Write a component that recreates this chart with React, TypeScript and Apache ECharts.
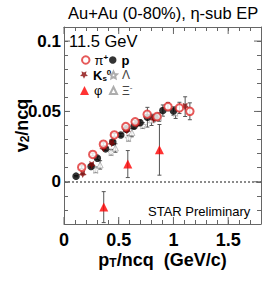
import React, { useEffect, useRef } from "react";
import * as echarts from "echarts";

// ---- data ----
const piX = [0.162, 0.263, 0.36, 0.46, 0.565, 0.65, 0.76, 0.85, 0.95, 1.055, 1.15];
const piY = [0.0104, 0.0194, 0.0267, 0.0333, 0.0392, 0.0426, 0.048, 0.0463, 0.0534, 0.0525, 0.0501];
const piErr = [0.001, 0.001, 0.001, 0.001, 0.001, 0.001, 0.0015, 0.002, 0.003, 0.004, 0.006];

const pX = [0.11, 0.247, 0.305, 0.38, 0.446, 0.519, 0.57, 0.64, 0.695, 0.762, 0.833, 0.903, 1.0];
const pY = [0.004, 0.0109, 0.0168, 0.0234, 0.0282, 0.0333, 0.0374, 0.0395, 0.042, 0.0459, 0.0456, 0.0506, 0.0503];
const pErr = [0.0005, 0.001, 0.001, 0.001, 0.001, 0.001, 0.001, 0.0015, 0.002, 0.007, 0.002, 0.004, 0.003];

const kX = [0.171, 0.253, 0.36, 0.436, 0.574, 0.665, 0.817, 1.107];
const kY = [0.0055, 0.012, 0.0239, 0.0274, 0.0364, 0.041, 0.0445, 0.0534];
const kErr = [0.0005, 0.001, 0.001, 0.001, 0.001, 0.0015, 0.002, 0.007];

const lamX = [0.29, 0.43, 0.59, 0.72, 0.87, 1.02];
const lamY = [0.0085, 0.021, 0.031, 0.04, 0.046, 0.049];
const lamErr = [0.002, 0.002, 0.002, 0.002, 0.003, 0.004];

const xiX = [0.33, 0.47, 0.62, 0.8];
const xiY = [0.012, 0.024, 0.035, 0.044];
const xiErr = [0.003, 0.003, 0.003, 0.004];

const phiX = [0.363, 0.583, 0.872];
const phiY = [-0.018, 0.0126, 0.0227];
const phiErr = [0.011, 0.0096, 0.018];

const xMajor = [0, 0.5, 1, 1.5];
const yMajor = [0, 0.05, 0.1];
const xMin = 0, xMax = 1.8, yMin = -0.03, yMax = 0.11;

const FONT = "Liberation Sans, Arial, Helvetica, sans-serif";
const AX = "#666";

const starDown =
  "path://M0,10 L2.9,4 L9.5,3.1 L4.7,-1.5 L5.9,-8.1 L0,-5 L-5.9,-8.1 L-4.7,-1.5 L-9.5,3.1 L-2.9,4 Z";
const starUp =
  "path://M0,-10 L2.9,-4 L9.5,-3.1 L4.7,1.5 L5.9,8.1 L0,5 L-5.9,8.1 L-4.7,1.5 L-9.5,-3.1 L-2.9,-4 Z";

function pts(xs: number[], ys: number[]) {
  return xs.map((x, i) => [x, ys[i]]);
}
function errs(xs: number[], ys: number[], es: number[]) {
  return xs.map((x, i) => [x, ys[i] - es[i], ys[i] + es[i]]);
}

export default function App() {
  const ref = useRef<HTMLDivElement>(null);
  useEffect(() => {
    if (!ref.current) return;
    const chart = echarts.init(ref.current, null, { renderer: "svg" });

    const errData = [
      ...errs(pX, pY, pErr),
      ...errs(kX, kY, kErr),
      ...errs(piX, piY, piErr),
      ...errs(lamX, lamY, lamErr),
      ...errs(xiX, xiY, xiErr),
      ...errs(phiX, phiY, phiErr),
    ];

    const fmt = (majors: number[]) => (v: number) => {
      const m = majors.find((q) => Math.abs(q - v) < 1e-6);
      return m === undefined ? "" : String(m);
    };

    const baseX = {
      type: "value",
      min: xMin,
      max: xMax,
      interval: 0.1,
      splitLine: { show: false },
      axisLine: { show: true, onZero: false, lineStyle: { color: AX, width: 1 } },
      axisTick: { show: true, inside: true, length: 4, lineStyle: { color: AX } },
    };
    const baseY = {
      type: "value",
      min: yMin,
      max: yMax,
      interval: 0.01,
      splitLine: { show: false },
      axisLine: { show: true, onZero: false, lineStyle: { color: AX, width: 1 } },
      axisTick: { show: true, inside: true, length: 4, lineStyle: { color: AX } },
    };

    const legendText = {
      fontFamily: FONT,
      fontSize: 13,
      color: "#000",
      lineHeight: 14,
      rich: {
        g: { fontSize: 13, color: "#000", fontFamily: FONT },
        b: { fontSize: 13, fontWeight: "bold", color: "#000", fontFamily: FONT },
        t: { fontSize: 12, color: "#444", fontFamily: FONT },
        sup: { fontSize: 8, fontWeight: "bold", verticalAlign: "top", color: "#000", fontFamily: FONT },
        sub: { fontSize: 8, fontWeight: "bold", verticalAlign: "bottom", color: "#000", fontFamily: FONT },
        supg: { fontSize: 8, verticalAlign: "top", color: "#444", fontFamily: FONT },
      },
    };
    const labels: Record<string, string> = {
      pi: "{g|π}{sup|+}",
      p: "{b|p}",
      K0s: "{b|K}{sub|s}{sup|0}",
      Lambda: "{t|Λ}",
      phi: "{g|φ}",
      Xi: "{t|Ξ}{supg|-}",
    };
    const mkLegend = (name: string, left: number, cy: number, w: number) => ({
      data: [name],
      left,
      top: cy - 7,
      itemWidth: w,
      itemHeight: w,
      itemGap: 0,
      padding: 0,
      textStyle: legendText,
      formatter: (n: string) => labels[n],
      selectedMode: false,
    });

    chart.setOption({
      animation: false,
      textStyle: { fontFamily: FONT },
      grid: { left: 64, top: 27, width: 197, height: 197, containLabel: false, outerBoundsMode: "none" },
      legend: [
        mkLegend("pi", 81, 60, 7.5),
        mkLegend("K0s", 80, 75, 8),
        mkLegend("phi", 80, 90.5, 9),
        mkLegend("p", 109, 60, 7.5),
        mkLegend("Lambda", 109, 75, 7),
        mkLegend("Xi", 109, 90.5, 7),
      ],
      xAxis: [
        {
          ...baseX,
          position: "bottom",
          axisLabel: {
            formatter: fmt(xMajor),
            fontSize: 18,
            fontWeight: "bold",
            color: "#000",
            margin: 7,
            fontFamily: FONT,
          },
          name: "{b|p}{s|T}{b|/ncq  (GeV/c)}",
          nameLocation: "middle",
          nameGap: 27,
          nameMoveOverlap: false,
          nameTextStyle: {
            rich: {
              b: { fontSize: 18, fontWeight: "bold", color: "#000", fontFamily: FONT },
              s: { fontSize: 12, fontWeight: "bold", color: "#000", verticalAlign: "bottom", fontFamily: FONT },
            },
          },
        },
        { ...baseX, position: "top", axisLabel: { show: false } },
      ],
      yAxis: [
        {
          ...baseY,
          position: "left",
          axisLabel: {
            formatter: fmt(yMajor),
            fontSize: 17,
            fontWeight: "bold",
            color: "#000",
            margin: 3,
            fontFamily: FONT,
          },
          name: "{b|v}{s|2}{b|/ncq}",
          nameLocation: "middle",
          nameRotate: 90,
          nameGap: 33,
          nameMoveOverlap: false,
          nameTextStyle: {
            rich: {
              b: { fontSize: 18, fontWeight: "bold", color: "#000", fontFamily: FONT },
              s: { fontSize: 12, fontWeight: "bold", color: "#000", verticalAlign: "bottom", fontFamily: FONT },
            },
          },
        },
        { ...baseY, position: "right", axisLabel: { show: false } },
      ],
      graphic: [
        {
          type: "text",
          left: 68,
          top: 4,
          style: { text: "Au+Au (0-80%), η-sub EP", fontSize: 16.5, fill: "#000", fontFamily: FONT },
        },
        {
          type: "text",
          left: 69,
          top: 32,
          style: { text: "11.5 GeV", fontSize: 16.5, fill: "#000", fontFamily: FONT },
        },
        {
          type: "text",
          left: 148,
          top: 205,
          style: { text: "STAR Preliminary", fontSize: 13, fill: "#000", fontFamily: FONT },
        },
      ],
      series: [
        {
          type: "custom",
          name: "major-x",
          xAxisIndex: 0,
          yAxisIndex: 0,
          silent: true,
          clip: false,
          data: xMajor.map((v) => [v, 0]),
          renderItem: (params: any, api: any) => {
            const v = api.value(0);
            const b = api.coord([v, yMin]);
            const t = api.coord([v, yMax]);
            const st = { stroke: AX, lineWidth: 1 };
            return {
              type: "group",
              children: [
                { type: "line", shape: { x1: b[0], y1: b[1], x2: b[0], y2: b[1] - 7 }, style: st },
                { type: "line", shape: { x1: t[0], y1: t[1], x2: t[0], y2: t[1] + 7 }, style: st },
              ],
            };
          },
        },
        {
          type: "custom",
          name: "major-y",
          xAxisIndex: 0,
          yAxisIndex: 0,
          silent: true,
          clip: false,
          data: yMajor.map((v) => [0, v]),
          renderItem: (params: any, api: any) => {
            const v = api.value(1);
            const l = api.coord([xMin, v]);
            const r = api.coord([xMax, v]);
            const st = { stroke: AX, lineWidth: 1 };
            return {
              type: "group",
              children: [
                { type: "line", shape: { x1: l[0], y1: l[1], x2: l[0] + 6, y2: l[1] }, style: st },
                { type: "line", shape: { x1: r[0], y1: r[1], x2: r[0] - 7, y2: r[1] }, style: st },
              ],
            };
          },
          markLine: {
            silent: true,
            symbol: "none",
            label: { show: false },
            lineStyle: { type: [2, 2], color: "#666", width: 1.5 },
            data: [{ yAxis: 0 }],
          },
        },
        {
          type: "custom",
          name: "errors",
          silent: true,
          data: errData,
          z: 1,
          renderItem: (params: any, api: any) => {
            const x = api.value(0);
            const lo = api.coord([x, api.value(1)]);
            const hi = api.coord([x, api.value(2)]);
            const st = { stroke: "#555", lineWidth: 1 };
            return {
              type: "group",
              children: [
                { type: "line", shape: { x1: lo[0], y1: lo[1], x2: hi[0], y2: hi[1] }, style: st },
                { type: "line", shape: { x1: hi[0] - 2, y1: hi[1], x2: hi[0] + 2, y2: hi[1] }, style: st },
                { type: "line", shape: { x1: lo[0] - 2, y1: lo[1], x2: lo[0] + 2, y2: lo[1] }, style: st },
              ],
            };
          },
        },
        {
          type: "scatter",
          name: "Lambda",
          data: pts(lamX, lamY),
          symbol: starUp,
          symbolSize: 7,
          itemStyle: { color: "#fff", borderColor: "#999", borderWidth: 0.8 },
          z: 2,
        },
        {
          type: "scatter",
          name: "Xi",
          data: pts(xiX, xiY),
          symbol: "triangle",
          symbolSize: 6,
          itemStyle: { color: "#fff", borderColor: "#999", borderWidth: 0.8 },
          z: 2,
        },
        {
          type: "scatter",
          name: "p",
          data: pts(pX, pY),
          symbol: "circle",
          symbolSize: 7.5,
          itemStyle: { color: "#000" },
          z: 3,
        },
        {
          type: "scatter",
          name: "K0s",
          data: pts(kX, kY),
          symbol: starDown,
          symbolSize: 8,
          itemStyle: { color: "#8b0a0a" },
          z: 4,
        },
        {
          type: "scatter",
          name: "pi",
          data: pts(piX, piY),
          symbol: "emptyCircle",
          symbolSize: 7.5,
          itemStyle: { color: "#e03030", borderColor: "#e03030", borderWidth: 0.9 },
          z: 5,
        },
        {
          type: "scatter",
          name: "phi",
          data: pts(phiX, phiY),
          symbol: "triangle",
          symbolSize: 9,
          itemStyle: { color: "#ff0000" },
          z: 6,
        },
      ],
    });
    return () => chart.dispose();
  }, []);
  return <div ref={ref} style={{ width: 266, height: 283, position: "absolute", left: 0, top: 0 }} />;
}
